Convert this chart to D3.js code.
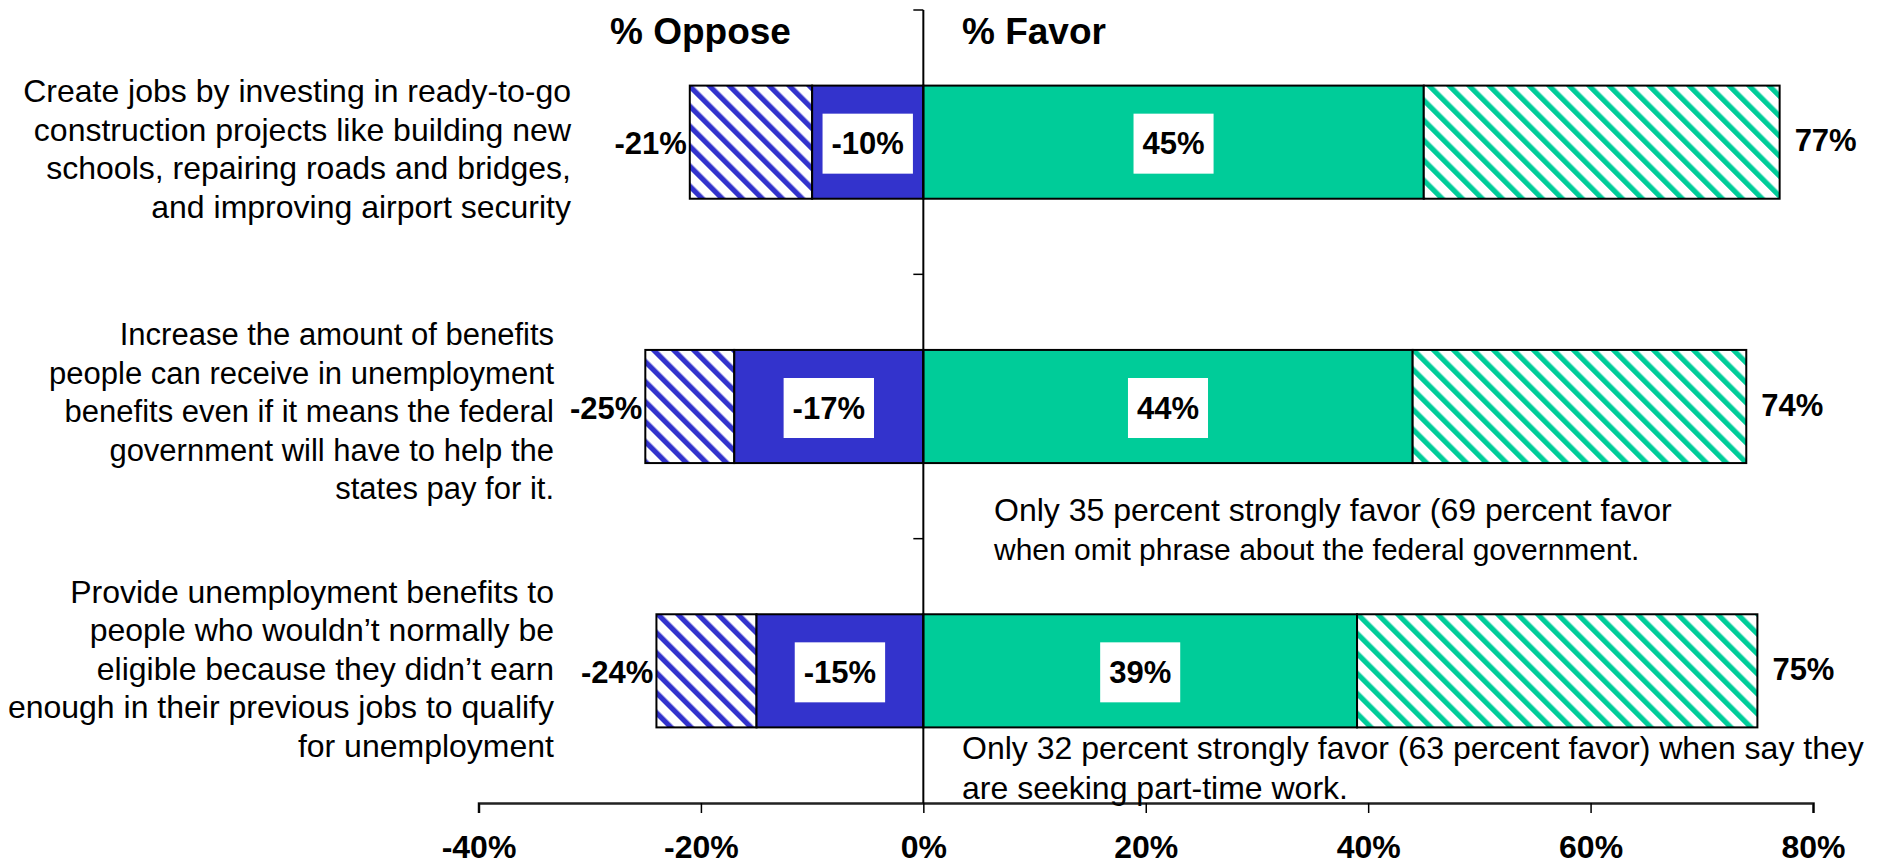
<!DOCTYPE html>
<html>
<head>
<meta charset="utf-8">
<script src="https://cdn.jsdelivr.net/npm/d3@7/dist/d3.min.js"></script>
<style>
  html, body { margin: 0; padding: 0; background: #fff; }
  svg { display: block; font-family: "Liberation Sans", Arial, Helvetica, sans-serif; }
</style>
</head>
<body>
<svg id="chart" width="1885" height="867"></svg>
<script>
// Survey items, one entry per bar (each line of the wrapped question text)
const categories = [
  ["Create jobs by investing in ready-to-go",
   "construction projects like building new",
   "schools, repairing roads and bridges,",
   "and improving airport security"],
  ["Increase the amount of benefits",
   "people can receive in unemployment",
   "benefits even if it means the federal",
   "government will have to help the",
   "states pay for it."],
  ["Provide unemployment benefits to",
   "people who wouldn\u2019t normally be",
   "eligible because they didn\u2019t earn",
   "enough in their previous jobs to qualify",
   "for unemployment"]
];

// Percent values (oppose shown as negatives)
const strongOppose = [-10, -17, -15];
const totalOppose  = [-21, -25, -24];
const strongFavor  = [45, 44, 39];
const totalFavor   = [77, 74, 75];

const tickValues = [-40, -20, 0, 20, 40, 60, 80];

const notes = [
  ["Only 35 percent strongly favor (69 percent favor",
   "when omit phrase about the federal government."],
  ["Only 32 percent strongly favor (63 percent favor) when say they",
   "are seeking part-time work."]
];

const headers = ["% Oppose", "% Favor"];

// ---- layout ----
const BLUE = "#3333CC";
const GREEN = "#00CC99";
const svg = d3.select("#chart");

const x = d3.scaleLinear().domain([-40, 80]).range([478.5, 1813]);
const ids = d3.range(categories.length);
const y = d3.scaleBand().domain(ids).range([10, 803])
  .paddingInner(0.572).paddingOuter(0.286);

// plain hyphen for negatives
const pct = v => (v < 0 ? "-" : "") + Math.abs(v) + "%";

// hatch patterns: diagonal stripes running top-left to bottom-right
const defs = svg.append("defs");
function hatch(id, color) {
  const p = defs.append("pattern")
    .attr("id", id)
    .attr("patternUnits", "userSpaceOnUse")
    .attr("width", 14.14).attr("height", 14.14)
    .attr("patternTransform", "rotate(-45)");
  p.append("rect").attr("width", 14.14).attr("height", 14.14).attr("fill", "#fff");
  p.append("rect").attr("x", 0).attr("width", 5.2).attr("height", 14.14).attr("fill", color);
}
hatch("hatchBlue", BLUE);
hatch("hatchGreen", GREEN);

const rows = ids.map(i => ({
  i,
  segs: [
    { a: totalOppose[i], b: strongOppose[i], fill: "url(#hatchBlue)" },
    { a: strongOppose[i], b: 0, fill: BLUE },
    { a: 0, b: strongFavor[i], fill: GREEN },
    { a: strongFavor[i], b: totalFavor[i], fill: "url(#hatchGreen)" }
  ]
}));

// bars
const barG = svg.append("g");
rows.forEach(r => {
  barG.selectAll(null).data(r.segs).enter().append("rect")
    .attr("x", d => x(Math.min(d.a, d.b)))
    .attr("y", y(r.i))
    .attr("width", d => Math.abs(x(d.b) - x(d.a)))
    .attr("height", y.bandwidth())
    .attr("fill", d => d.fill)
    .attr("stroke", "#000")
    .attr("stroke-width", 2);
});

// x axis (bottom)
const axisY = 803;
const xAxis = svg.append("g")
  .attr("transform", `translate(0,${axisY})`)
  .call(d3.axisBottom(x).tickValues(tickValues).tickSize(10).tickSizeOuter(10).tickFormat(pct).tickPadding(22));
xAxis.select(".domain").attr("stroke", "#222").attr("stroke-width", 2.5);
xAxis.selectAll(".tick line").attr("stroke", "#000").attr("stroke-width", 1.5);
xAxis.selectAll(".tick text")
  .attr("fill", "#000")
  .attr("font-size", 32).attr("font-weight", "bold")
  .attr("font-family", "'Liberation Sans', Arial, sans-serif");

// vertical zero axis with category dividers
const zeroG = svg.append("g");
zeroG.append("line")
  .attr("x1", x(0)).attr("x2", x(0))
  .attr("y1", y.range()[0]).attr("y2", axisY)
  .attr("stroke", "#000").attr("stroke-width", 2);
const dividers = ids.map(i => y.range()[0] + i * y.step());
zeroG.selectAll(null).data(dividers).enter().append("line")
  .attr("x1", x(0) - 10).attr("x2", x(0))
  .attr("y1", d => d).attr("y2", d => d)
  .attr("stroke", "#000").attr("stroke-width", 1.5);

// headers
svg.append("text").attr("x", 610).attr("y", 44)
  .attr("font-size", 37).attr("font-weight", "bold").text(headers[0]);
svg.append("text").attr("x", 962).attr("y", 44)
  .attr("font-size", 37).attr("font-weight", "bold").text(headers[1]);

// inner value labels on white boxes
const labelG = svg.append("g");
rows.forEach(r => {
  const cy = y(r.i) + y.bandwidth() / 2 + 1.5;
  [[strongOppose[r.i], 0], [0, strongFavor[r.i]]].forEach(([a, b], k) => {
    const cx = (x(a) + x(b)) / 2;
    const g = labelG.append("g");
    const t = g.append("text")
      .attr("x", cx).attr("y", cy)
      .attr("text-anchor", "middle").attr("dominant-baseline", "central")
      .attr("font-size", 31).attr("font-weight", "bold")
      .text(pct(k === 0 ? a : b));
    const w = t.node().getComputedTextLength();
    g.insert("rect", "text")
      .attr("x", cx - w / 2 - 9).attr("y", cy - 30)
      .attr("width", w + 18).attr("height", 60)
      .attr("fill", "#fff");
  });
  // outer totals
  labelG.append("text")
    .attr("x", x(totalOppose[r.i]) - 3).attr("y", cy)
    .attr("text-anchor", "end").attr("dominant-baseline", "central")
    .attr("font-size", 31).attr("font-weight", "bold")
    .text(pct(totalOppose[r.i]));
  labelG.append("text")
    .attr("x", x(totalFavor[r.i]) + 15).attr("y", cy - 3)
    .attr("text-anchor", "start").attr("dominant-baseline", "central")
    .attr("font-size", 31).attr("font-weight", "bold")
    .text(pct(totalFavor[r.i]));
});

// category question text, right-aligned
const catRight = [571, 554, 554];
const catDy = [7, 5, -2];
const catSize = [32, 31, 32];
const lineH = 38.5;
categories.forEach((lines, i) => {
  const cy = y(i) + y.bandwidth() / 2 + catDy[i];
  const t = svg.append("text")
    .attr("text-anchor", "end")
    .attr("font-size", catSize[i])
    .attr("fill", "#000");
  lines.forEach((ln, j) => {
    t.append("tspan")
      .attr("x", catRight[i])
      .attr("y", cy + (j - (lines.length - 1) / 2) * lineH)
      .attr("dominant-baseline", "central")
      .text(ln);
  });
});

// footnotes under the second and third bars
const notePos = [{ x: 994, y: 510 }, { x: 962, y: 748 }];
const noteSize = [[32, 30], [32, 32]];
notes.forEach((lines, i) => {
  const t = svg.append("text").attr("fill", "#000");
  lines.forEach((ln, j) => {
    t.append("tspan")
      .attr("x", notePos[i].x)
      .attr("y", notePos[i].y + j * 39.5)
      .attr("font-size", noteSize[i][j])
      .attr("dominant-baseline", "central")
      .text(ln);
  });
});
</script>
</body>
</html>
